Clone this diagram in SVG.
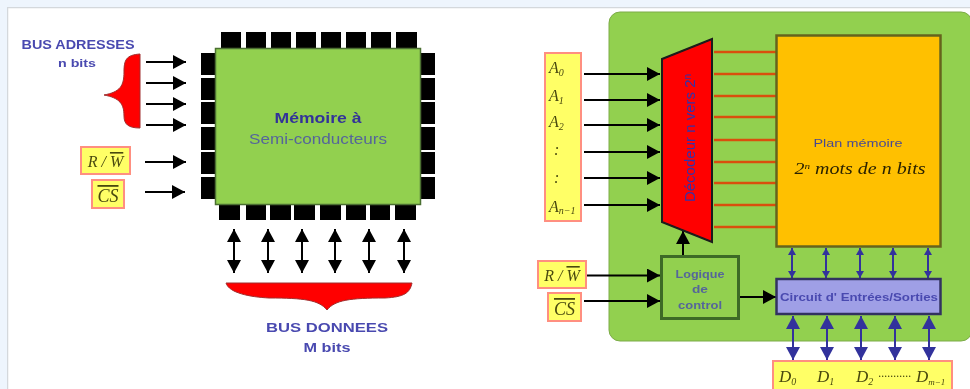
<svg xmlns="http://www.w3.org/2000/svg" width="970" height="389" viewBox="0 0 970 389">
<style>
.pin{fill:#000}
.lbl{font-family:"Liberation Sans",Arial,sans-serif;font-weight:bold;fill:#4a4ab0;text-anchor:middle}
.reg{font-family:"Liberation Sans",Arial,sans-serif;fill:#4a4a90;text-anchor:middle}
.math{font-family:"Liberation Serif","Times New Roman",serif;font-style:italic;fill:#4a4a10}
.sig{fill:#ffff66;stroke:#ff8f80;stroke-width:2}
.k{stroke:#000;stroke-width:2;fill:none;marker-end:url(#ak)}
.kk{stroke:#000;stroke-width:2;fill:none;marker-start:url(#ak);marker-end:url(#ak)}
.r{stroke:#d9500f;stroke-width:2.500;fill:none}
.b{stroke:#33339c;stroke-width:2;fill:none;marker-start:url(#ab);marker-end:url(#ab)}
.bs{stroke:#33339c;stroke-width:2;fill:none;marker-start:url(#as);marker-end:url(#as)}
.o{text-decoration:overline}
</style>
<defs>
<filter id="soft" x="0" y="0" width="100%" height="100%"><feGaussianBlur stdDeviation="0.7"/></filter>
<marker id="ak" markerUnits="userSpaceOnUse" markerWidth="14" markerHeight="14" refX="13" refY="7" orient="auto-start-reverse"><path d="M0 0L13 7L0 14Z" fill="#000"/></marker>
<marker id="ab" markerUnits="userSpaceOnUse" markerWidth="14" markerHeight="14" refX="13" refY="7" orient="auto-start-reverse"><path d="M0 0L13 7L0 14Z" fill="#33339c"/></marker>
<marker id="as" markerUnits="userSpaceOnUse" markerWidth="8" markerHeight="8" refX="7" refY="4" orient="auto-start-reverse"><path d="M0 0L7 4L0 8Z" fill="#33339c"/></marker>
</defs>
<rect width="970" height="389" fill="#eef5fd"/>
<g filter="url(#soft)">
<rect x="7.500" y="7.500" width="970" height="390" fill="#fff" stroke="#d4d8dc" stroke-width="1.500"/>
<g id="panel"><rect x="609" y="12" width="363" height="329" rx="11" fill="#92d050" stroke="#7cab48" stroke-width="1"/></g>
<g id="connectors">
<path class="k" d="M146 62H186"/><path class="k" d="M146 83H186"/><path class="k" d="M146 104H186"/><path class="k" d="M146 125H186"/><path class="k" d="M145 162H186"/><path class="k" d="M145 192H185"/>
<path class="kk" d="M234 229V273"/><path class="kk" d="M268 229V273"/><path class="kk" d="M302 229V273"/><path class="kk" d="M335 229V273"/><path class="kk" d="M369 229V273"/><path class="kk" d="M404 229V273"/>
<path class="k" d="M584 74H660"/><path class="k" d="M584 100H660"/><path class="k" d="M584 125H660"/><path class="k" d="M584 152H660"/><path class="k" d="M584 178H660"/><path class="k" d="M584 205H660"/><path class="k" d="M586 275.500H660"/><path class="k" d="M584 301H660"/><path class="k" d="M739 297H776"/><path class="k" d="M683 256V231"/>
<path class="r" d="M714 52H776M714 74H776M714 96H776M714 117H776M714 140H776M714 162H776M714 183H776M714 205H776M714 227H776"/>
<path class="bs" d="M792 248V278"/><path class="bs" d="M826 248V278"/><path class="bs" d="M860 248V278"/><path class="bs" d="M893 248V278"/><path class="bs" d="M928 248V278"/>
<path class="b" d="M793 316V360"/><path class="b" d="M827 316V360"/><path class="b" d="M861 316V360"/><path class="b" d="M895 316V360"/><path class="b" d="M929 316V360"/>
</g>
<g id="chip">
<g class="pin">
<rect x="221" y="32" width="20" height="16"/><rect x="246" y="32" width="20" height="16"/><rect x="271" y="32" width="20" height="16"/><rect x="296" y="32" width="20" height="16"/><rect x="321" y="32" width="20" height="16"/><rect x="346" y="32" width="20" height="16"/><rect x="371" y="32" width="20" height="16"/><rect x="396" y="32" width="21" height="16"/>
<rect x="219" y="205" width="21" height="15"/><rect x="246" y="205" width="20" height="15"/><rect x="270" y="205" width="21" height="15"/><rect x="294" y="205" width="21" height="15"/><rect x="320" y="205" width="21" height="15"/><rect x="346" y="205" width="20" height="15"/><rect x="370" y="205" width="20" height="15"/><rect x="395" y="205" width="21" height="15"/>
<rect x="201" y="53" width="14" height="22"/><rect x="201" y="78" width="14" height="22"/><rect x="201" y="102" width="14" height="22"/><rect x="201" y="127" width="14" height="23"/><rect x="201" y="152" width="14" height="22"/><rect x="201" y="177" width="14" height="22"/>
<rect x="420" y="53" width="15" height="22"/><rect x="420" y="78" width="15" height="22"/><rect x="420" y="102" width="15" height="22"/><rect x="420" y="127" width="15" height="23"/><rect x="420" y="152" width="15" height="22"/><rect x="420" y="177" width="15" height="22"/>
</g>
<rect x="215.500" y="48.500" width="205" height="156" fill="#92d050" stroke="#4c7030" stroke-width="1.500"/>
<text class="lbl" x="318" y="123" font-size="15" textLength="87" lengthAdjust="spacingAndGlyphs" style="fill:#333399">Mémoire à</text>
<text class="reg" x="318" y="144" font-size="15" textLength="138" lengthAdjust="spacingAndGlyphs" style="fill:#55659a">Semi-conducteurs</text>
</g>
<g id="bus-adresses">
<path d="M140 54C126 55 124 60 124 72C124 86 120 92 104 95C120 98 124 104 124 116C124 124 128 128 140 128Z" fill="#f00" stroke="#a03030" stroke-width="1"/>
<text class="lbl" x="78" y="49" font-size="12" textLength="113" lengthAdjust="spacingAndGlyphs">BUS ADRESSES</text>
<text class="lbl" x="77" y="67" font-size="11" textLength="38" lengthAdjust="spacingAndGlyphs">n bits</text>
</g>
<g id="rw-left"><rect class="sig" x="81" y="147" width="49" height="27"/><text class="math" x="105.500" y="167" font-size="16" text-anchor="middle">R / <tspan class="o">W</tspan></text></g>
<g id="cs-left"><rect class="sig" x="92" y="180" width="32" height="28"/><text class="math" x="108" y="202" font-size="18" text-anchor="middle"><tspan class="o">CS</tspan></text></g>
<g id="bus-donnees">
<path d="M226 283H412C410 293 404 297 385 298C350 298 335 300 327 310C319 300 304 298 269 298C250 297 229 293 226 283Z" fill="#f00" stroke="#a03030" stroke-width="1"/>
<text class="lbl" x="327" y="332" font-size="13.500" textLength="122" lengthAdjust="spacingAndGlyphs">BUS DONNEES</text>
<text class="lbl" x="327" y="352" font-size="13" textLength="47" lengthAdjust="spacingAndGlyphs">M bits</text>
</g>
<g id="adresses">
<rect class="sig" x="545" y="53" width="36" height="168"/>
<text class="math" font-size="16">
<tspan x="549" y="73">A<tspan font-size="10" dy="3">0</tspan></tspan>
<tspan x="549" y="101">A<tspan font-size="10" dy="3">1</tspan></tspan>
<tspan x="549" y="127">A<tspan font-size="10" dy="3">2</tspan></tspan>
<tspan x="554" y="155">:</tspan>
<tspan x="554" y="183">:</tspan>
<tspan x="549" y="212">A<tspan font-size="10" dy="2">n−1</tspan></tspan>
</text>
</g>
<g id="decodeur">
<path d="M662 59L712 39V242L662 222Z" fill="#f00" stroke="#1a1a1a" stroke-width="2"/>
<text transform="translate(695 138) rotate(-90)" font-family="'Liberation Sans',Arial,sans-serif" font-size="15" fill="#3333aa" text-anchor="middle">Décodeur n vers 2<tspan font-size="10" dy="-4">n</tspan></text>
</g>
<g id="plan">
<rect x="776.500" y="35.500" width="164" height="211" fill="#ffc000" stroke="#66641c" stroke-width="2.500"/>
<text class="reg" x="858" y="147" font-size="11" textLength="89" lengthAdjust="spacingAndGlyphs">Plan mémoire</text>
<text class="math" x="860" y="174" font-size="16" text-anchor="middle" textLength="131" lengthAdjust="spacingAndGlyphs" style="fill:#2a2200">2<tspan font-size="9" dy="-5">n</tspan><tspan dy="5"> mots de n bits</tspan></text>
</g>
<g id="logique">
<rect x="661.500" y="256.500" width="77" height="62" fill="#92d050" stroke="#3c6a28" stroke-width="3"/>
<text class="lbl" font-size="10.500" style="fill:#55659a"><tspan x="700" y="278" textLength="49" lengthAdjust="spacingAndGlyphs">Logique</tspan><tspan x="700" y="293" textLength="16" lengthAdjust="spacingAndGlyphs">de</tspan><tspan x="700" y="309" textLength="44" lengthAdjust="spacingAndGlyphs">control</tspan></text>
</g>
<g id="circuit">
<rect x="776.500" y="279" width="164" height="35" fill="#9f9fe6" stroke="#33335f" stroke-width="2.500"/>
<text class="lbl" x="859" y="301" font-size="10.500" textLength="158" lengthAdjust="spacingAndGlyphs">Circuit d' Entrées/Sorties</text>
</g>
<g id="rw-right"><rect class="sig" x="538" y="261" width="48" height="27"/><text class="math" x="562" y="281" font-size="16" text-anchor="middle">R / <tspan class="o">W</tspan></text></g>
<g id="cs-right"><rect class="sig" x="548" y="293" width="33" height="28"/><text class="math" x="564.500" y="315" font-size="18" text-anchor="middle"><tspan class="o">CS</tspan></text></g>
<g id="donnees">
<rect class="sig" x="773" y="361" width="179" height="29"/>
<text class="math" font-size="17" y="382"><tspan x="779" y="382">D<tspan font-size="10" dy="3">0</tspan></tspan><tspan x="817" y="382">D<tspan font-size="10" dy="3">1</tspan></tspan><tspan x="856" y="382">D<tspan font-size="10" dy="3">2</tspan></tspan><tspan x="878" y="380" font-size="12">···········</tspan><tspan x="916" y="382">D<tspan font-size="9" dy="3">m−1</tspan></tspan></text>
</g>
</g>
</svg>
